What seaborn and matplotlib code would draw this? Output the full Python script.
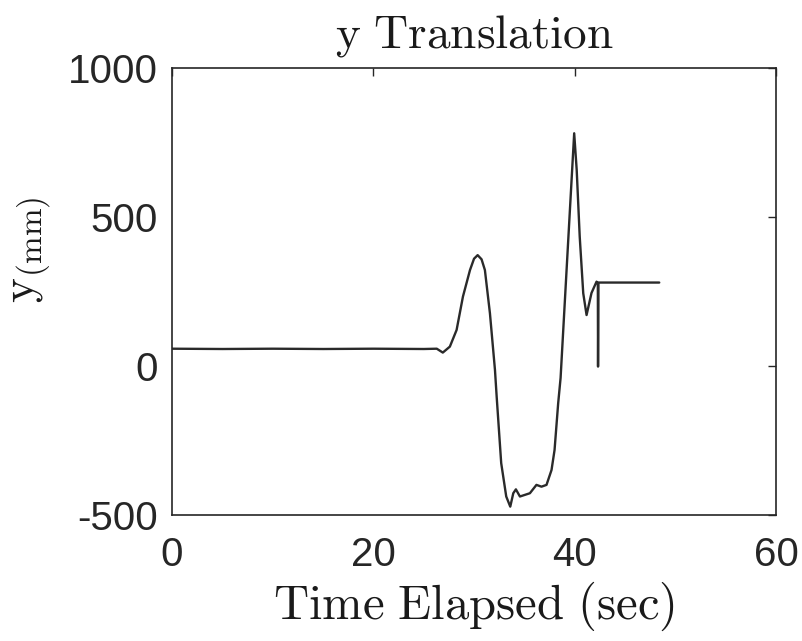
import matplotlib
matplotlib.use("Agg")
import matplotlib.pyplot as plt
import seaborn as sns
import pandas as pd

# y-translation trace (time in seconds, displacement in mm)
time_s = [0.0, 5.0, 10.0, 15.0, 20.0, 25.0, 26.3, 26.9, 27.6, 28.27, 28.9,
          29.6, 30.0, 30.36, 30.75, 31.08, 31.58, 32.08, 32.25, 32.7, 33.2,
          33.6, 33.9, 34.16, 34.56, 35.55, 36.2, 36.7, 37.2, 37.7, 38.0,
          38.36, 38.6, 39.47, 39.95, 40.2, 40.5, 40.85, 41.18, 41.67, 42.17,
          42.30, 42.32, 42.36, 45.0, 48.4]
y_mm = [58, 57, 58, 57, 58, 57, 58, 45, 65, 121, 233,
        322, 360, 372, 358, 322, 177, -13, -103, -326, -438,
        -472, -427, -414, -438, -427, -399, -405, -399, -349, -282,
        -125, -40, 490, 781, 658, 434, 244, 171, 245, 283,
        278, -2, 280, 280, 280]

x_ticks = [0, 20, 40, 60]
y_ticks = [-500, 0, 500, 1000]

df = pd.DataFrame({"t": time_s, "y": y_mm})

sns.set_style("white")
plt.rcParams["font.family"] = ["Liberation Sans", "DejaVu Sans"]
plt.rcParams["mathtext.fontset"] = "cm"
plt.rcParams["axes.unicode_minus"] = False

fig = plt.figure(figsize=(8.02, 6.41), dpi=100)
ax = fig.add_axes([0.2145, 0.1966, 0.7531, 0.6973])

sns.lineplot(data=df, x="t", y="y", ax=ax, sort=False, estimator=None,
             color="#2a2a2a", linewidth=1.7)

ax.set_xlim(0, 60)
ax.set_ylim(-500, 1000)
ax.set_xticks(x_ticks)
ax.set_yticks(y_ticks)
ax.tick_params(direction="in", top=True, right=True, length=6, width=1,
               labelsize=29, colors="#262626")
ax.tick_params(axis="x", pad=15)
ax.tick_params(axis="y", pad=10)
for s in ax.spines.values():
    s.set_visible(True)
    s.set_color("#262626")
    s.set_linewidth(1.2)

ax.set_title(r"$\mathrm{y\ Translation}$", fontsize=34, pad=15, color="#1a1a1a")
ax.set_xlabel(r"$\mathrm{Time\ Elapsed\ (sec)}$", fontsize=35, color="#1a1a1a",
              labelpad=4)
ax.set_ylabel(r"$\mathrm{y}_{\mathrm{(mm)}}$", fontsize=34, color="#1a1a1a")
ax.yaxis.set_label_coords(-0.197, 0.593)

fig.savefig("out.png", dpi=100)
